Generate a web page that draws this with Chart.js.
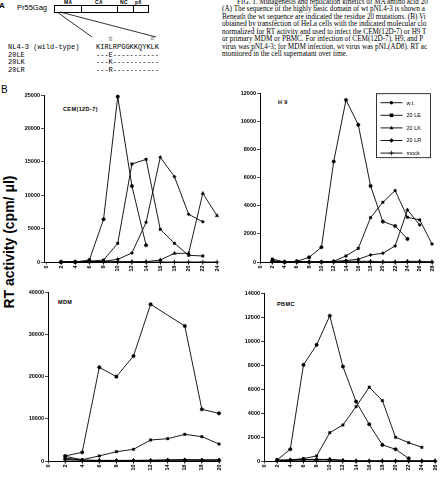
<!DOCTYPE html>
<html><head><meta charset="utf-8">
<script src="https://cdn.jsdelivr.net/npm/chart.js@4.4.0/dist/chart.umd.min.js"></script>
<style>
html,body{margin:0;padding:0;background:#fff;}
body{width:443px;height:483px;overflow:hidden;position:relative;font-family:"Liberation Sans",Arial,sans-serif;color:#000;}
.abs{position:absolute;white-space:nowrap;}
canvas{position:absolute;}
.cap{font-family:"Liberation Serif","Times New Roman",serif;font-size:7.2px;line-height:7.5px;left:222px;top:-1.5px;}
.mono{font-family:"Liberation Mono","Courier New",monospace;font-size:7px;line-height:7.5px;font-weight:normal;}
.ttl{font-weight:bold;font-size:5.5px;letter-spacing:0.4px;}
</style></head><body>

<div class="abs cap"><span style="padding-left:15px">FIG. 1. Mutagenesis and replication kinetics of MA amino acid 20</span><br>(A) The sequence of the highly basic domain of wt pNL4-3 is shown a<br>Beneath the wt sequence are indicated the residue 20 mutations. (B) Vi<br>obtained by transfection of HeLa cells with the indicated molecular clo<br>normalized for RT activity and used to infect the CEM(12D-7) or H9 T<br>or primary MDM or PBMC. For infection of CEM(12D-7), H9, and P<br>virus was pNL4-3; for MDM infection, wt virus was pNL(AD8). RT ac<br>monitored in the cell supernatant over time.</div>

<div class="abs" style="left:-1px;top:1px;font-size:8px;font-weight:bold;">A</div>
<div class="abs" style="left:17px;top:3px;font-size:7.5px;">Pr55Gag</div>
<div class="abs" style="left:54px;top:5px;width:93px;height:6px;border:0.8px solid #000;"></div>
<div class="abs" style="left:81px;top:5px;width:0;height:7px;border-left:0.8px solid #000;"></div>
<div class="abs" style="left:117px;top:5px;width:0;height:7px;border-left:0.8px solid #000;"></div>
<div class="abs" style="left:133px;top:5px;width:0;height:7px;border-left:0.8px solid #000;"></div>
<div class="abs ttl" style="left:64px;top:-1px;font-size:5px;">MA</div>
<div class="abs ttl" style="left:95px;top:-1px;font-size:5px;">CA</div>
<div class="abs ttl" style="left:120px;top:-1px;font-size:5px;">NC</div>
<div class="abs ttl" style="left:135px;top:-1px;font-size:5px;">p6</div>
<svg class="abs" style="left:0;top:0" width="200" height="50"><line x1="57" y1="12" x2="92" y2="37" stroke="#000" stroke-width="0.8"/><line x1="60" y1="12" x2="156" y2="37" stroke="#000" stroke-width="0.8"/></svg>
<div class="abs" style="left:108px;top:36px;font-size:4px;transform:rotate(90deg);">20</div>
<div class="abs" style="left:150px;top:36px;font-size:4px;transform:rotate(90deg);">31</div>
<div class="abs mono" style="left:8px;top:44px;">NL4-3 (wild-type)<br>20LE<br>20LK<br>20LR</div>
<div class="abs mono" style="left:96px;top:44px;">KIRLRPGGKKQYKLK<br>---E-----------<br>---K-----------<br>---R-----------</div>

<div class="abs" style="left:1px;top:84px;font-size:10px;">B</div>
<div class="abs" style="left:9px;top:242px;font-size:14px;font-weight:bold;transform:translate(-50%,-50%) rotate(-90deg);">RT activity (cpm/ μl)</div>

<div class="abs ttl" style="left:63px;top:106px;">CEM(12D-7)</div>
<div class="abs ttl" style="left:278px;top:99px;">H 9</div>
<div class="abs ttl" style="left:58px;top:299px;">MDM</div>
<div class="abs ttl" style="left:277px;top:301px;">PBMC</div>

<script>
// ---------- DATA ----------
const seriesNames = ['w.t.', '20 LE', '20 LK', '20 LR', 'mock'];
const pointStyles = ['circle', 'rect', 'triangle', 'rectRot', 'cross'];

const cemDays = [2,4,6,8,10,12,14,16,18,20,22,24];
const cemWT   = [0,0,300,6400,24750,11380,2500,null,null,null,null,null];
const cemLE   = [0,0,100,300,2800,14670,15370,4890,2800,1000,900,null];
const cemLK   = [0,0,0,50,50,50,50,300,1300,1300,10280,6930];
const cemLR   = [0,0,100,100,400,1350,5940,15670,12770,7140,6030,null];
const cemMock = [0,0,0,0,0,0,0,0,0,0,0,0];

const h9Days = [2,4,6,8,10,12,14,16,18,20,22,24,26,28];
const h9WT   = [100,0,50,330,1050,7130,11500,9740,5400,2870,2560,1640,null,null];
const h9LE   = [210,0,50,0,0,50,430,970,3150,4240,5070,3180,2990,1280];
const h9LK   = [50,0,0,0,0,0,50,50,50,0,0,50,50,0];
const h9LR   = [0,0,0,0,0,50,100,200,500,620,1140,3700,2630,null];
const h9Mock = [0,0,0,0,0,0,0,0,0,0,0,0,0,0];

const mdmDays = [2,4,6,8,10,12,14,16,18,20];
const mdmWT   = [1200,2050,22170,19960,24850,37080,null,31950,12230,11280];
const mdmLE   = [1100,300,1200,2200,2760,4970,5280,6310,5760,4020];
const mdmLK   = [700,200,100,100,100,100,150,200,150,200];
const mdmLR   = [400,200,150,150,150,200,300,350,300,300];
const mdmMock = [0,0,0,0,0,0,0,0,0,0];

const pbmcDays = [2,4,6,8,10,12,14,16,18,20,22,24,26];
const pbmcWT   = [80,980,8010,9680,12100,7870,4950,3060,1340,980,220,null,null];
const pbmcLE   = [80,80,200,420,2360,3000,4530,6150,5030,1980,1530,1140,null];
const pbmcLK   = [50,100,150,100,150,50,0,0,0,0,0,0,0];
const pbmcLR   = [0,50,100,150,100,50,0,0,0,0,0,0,0];
const pbmcMock = [0,0,0,0,0,0,0,0,0,0,0,0,0];

// ---------- DRAWING ----------
const FONT = '"Liberation Sans", Arial, sans-serif';

function drawMark(ctx, style, x, y, r) {
  ctx.save();
  ctx.fillStyle = '#000'; ctx.strokeStyle = '#000'; ctx.lineWidth = 0.8;
  ctx.beginPath();
  if (style === 'circle') { ctx.arc(x, y, r, 0, Math.PI * 2); ctx.fill(); }
  else if (style === 'rect') { ctx.fillRect(x - r, y - r, 2 * r, 2 * r); }
  else if (style === 'triangle') { ctx.moveTo(x, y - r * 1.2); ctx.lineTo(x + r * 1.1, y + r * 0.8); ctx.lineTo(x - r * 1.1, y + r * 0.8); ctx.closePath(); ctx.fill(); }
  else if (style === 'rectRot') { ctx.moveTo(x, y - r * 1.3); ctx.lineTo(x + r * 1.3, y); ctx.lineTo(x, y + r * 1.3); ctx.lineTo(x - r * 1.3, y); ctx.closePath(); ctx.fill(); }
  else if (style === 'cross') { ctx.moveTo(x, y - r); ctx.lineTo(x, y + r); ctx.moveTo(x - r, y); ctx.lineTo(x + r, y); ctx.stroke(); }
  ctx.restore();
}

function makePanel(rect, days, seriesVals, xmin, xmax, ymax, ystep, legendBox) {
  const YW = 30, PT = 6, PR = 6, XH = 16;
  const cl = rect.L - YW, ct = rect.T - PT;
  const w = Math.round(rect.R - cl + PR), h = Math.round(rect.B - ct + XH);
  const cv = document.createElement('canvas');
  cv.width = w; cv.height = h;
  cv.style.left = cl + 'px'; cv.style.top = ct + 'px';
  cv.style.width = w + 'px'; cv.style.height = h + 'px';
  document.body.appendChild(cv);

  const datasets = seriesVals.map((vals, i) => ({
    label: seriesNames[i],
    data: days.map((d, j) => ({ x: d, y: vals[j] })),
    borderColor: '#000', backgroundColor: '#000',
    borderWidth: 0.9,
    pointStyle: pointStyles[i],
    pointRadius: i === 4 ? 2.3 : (i === 2 ? 2.2 : 1.8),
    pointBorderWidth: i === 4 ? 0.8 : 0.3,
    pointBackgroundColor: '#000', pointBorderColor: '#000',
    spanGaps: true, tension: 0, clip: false
  }));

  const plugins = [];
  if (legendBox) {
    plugins.push({
      id: 'boxLegend',
      afterDraw(chart) {
        const ctx = chart.ctx;
        const bx = legendBox.x - cl, by = legendBox.y - ct;
        ctx.save();
        ctx.strokeStyle = '#000'; ctx.lineWidth = 0.8;
        ctx.strokeRect(bx, by, legendBox.w, legendBox.h);
        ctx.font = '5.5px ' + FONT; ctx.fillStyle = '#000'; ctx.textBaseline = 'middle';
        seriesNames.forEach((name, i) => {
          const yy = by + 9 + i * 12.6;
          ctx.beginPath(); ctx.lineWidth = 0.9;
          ctx.moveTo(bx + 4, yy); ctx.lineTo(bx + 26, yy); ctx.stroke();
          drawMark(ctx, pointStyles[i], bx + 15, yy, i === 4 ? 2.3 : 1.8);
          ctx.fillText(name, bx + 30, yy + 0.3);
        });
        ctx.restore();
      }
    });
  }

  new Chart(cv, {
    type: 'line',
    data: { datasets },
    plugins,
    options: {
      responsive: false, animation: false, devicePixelRatio: 1,
      layout: { padding: { top: PT, right: PR, left: 0, bottom: 0 } },
      plugins: { legend: { display: false }, tooltip: { enabled: false } },
      scales: {
        x: {
          type: 'linear', min: xmin, max: xmax,
          ticks: { stepSize: 2, includeBounds: false, minRotation: 90, maxRotation: 90, autoSkip: false,
                   color: '#000', padding: 1, font: { size: 5.5, weight: 'bold', family: FONT },
                   callback: v => String(v) },
          grid: { display: true, drawOnChartArea: false, drawTicks: true, tickLength: 2.5, color: '#000', lineWidth: 0.7 },
          border: { display: true, color: '#000', width: 1 },
          afterFit: s => { s.height = XH; s.paddingLeft = 0; s.paddingRight = 0; }
        },
        y: {
          type: 'linear', min: 0, max: ymax,
          ticks: { stepSize: ystep, color: '#000', padding: 1, font: { size: 5.5, weight: 'bold', family: FONT },
                   callback: v => String(v) },
          grid: { display: true, drawOnChartArea: false, drawTicks: true, tickLength: 3, color: '#000', lineWidth: 0.7 },
          border: { display: true, color: '#000', width: 1 },
          afterFit: s => { s.width = YW; s.paddingTop = 0; s.paddingBottom = 0; }
        }
      }
    }
  });
}

makePanel({ L: 43.5, T: 95, R: 216.7, B: 262 }, cemDays, [cemWT, cemLE, cemLK, cemLR, cemMock], -0.4, 24, 25000, 5000);
makePanel({ L: 259.5, T: 93.3, R: 431.7, B: 262 }, h9Days, [h9WT, h9LE, h9LK, h9LR, h9Mock], 0, 28, 12000, 2000,
          { x: 376, y: 94, w: 54, h: 64 });
makePanel({ L: 48, T: 292, R: 219, B: 461 }, mdmDays, [mdmWT, mdmLE, mdmLK, mdmLR, mdmMock], 0, 20, 40000, 10000);
makePanel({ L: 263.5, T: 293.3, R: 434.3, B: 461 }, pbmcDays, [pbmcWT, pbmcLE, pbmcLK, pbmcLR, pbmcMock], 0, 26, 14000, 2000);
</script>
</body></html>
